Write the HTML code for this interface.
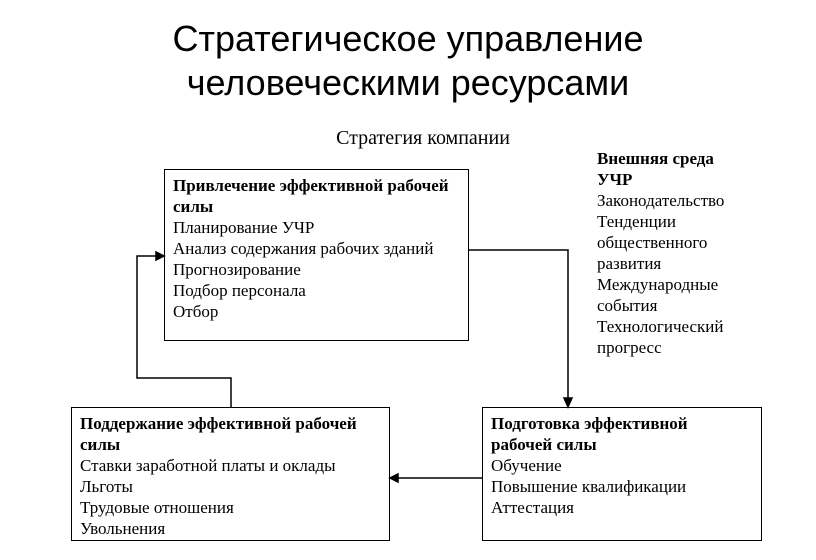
<!DOCTYPE html>
<html><head><meta charset="utf-8"><style>
body{margin:0;width:816px;height:560px;background:#fff;position:relative;overflow:hidden;font-family:"Liberation Serif",serif;color:#000}
.t{position:absolute;left:0;width:816px;text-align:center;font-family:"Liberation Sans",sans-serif;font-size:36px;line-height:44px;top:17px}
.box{position:absolute;border:1px solid #000;box-sizing:border-box;font-size:17px;line-height:21px;padding:5px 8px;white-space:nowrap}
.box b{display:block}
.ext{position:absolute;left:597px;top:148px;font-size:17px;line-height:21px;white-space:nowrap}
</style></head><body>
<div class="t">Стратегическое управление<br>человеческими ресурсами</div>
<div style="position:absolute;left:0;width:846px;text-align:center;top:127px;font-size:20px">Стратегия компании</div>
<div class="box" style="left:164px;top:169px;width:305px;height:172px"><b>Привлечение эффективной рабочей<br>силы</b>Планирование УЧР<br>Анализ содержания рабочих зданий<br>Прогнозирование<br>Подбор персонала<br>Отбор</div>
<div class="ext"><b>Внешняя среда<br>УЧР</b><br>Законодательство<br>Тенденции<br>общественного<br>развития<br>Международные<br>события<br>Технологический<br>прогресс</div>
<div class="box" style="left:71px;top:407px;width:319px;height:134px"><b>Поддержание эффективной рабочей<br>силы</b>Ставки заработной платы и оклады<br>Льготы<br>Трудовые отношения<br>Увольнения</div>
<div class="box" style="left:482px;top:407px;width:280px;height:134px"><b>Подготовка эффективной<br>рабочей силы</b>Обучение<br>Повышение квалификации<br>Аттестация</div>
<svg width="816" height="560" style="position:absolute;left:0;top:0" fill="none" stroke="#000" stroke-width="1.5">
<polyline points="469,250 568,250 568,400"/>
<polygon points="564,398 572,398 568,407" fill="#000"/>
<polyline points="231,407 231,378 137,378 137,256 157,256"/>
<polygon points="156,252 156,260 164,256" fill="#000"/>
<line x1="482" y1="478" x2="397" y2="478"/>
<polygon points="398,474 398,482 390,478" fill="#000"/>
</svg>
</body></html>
